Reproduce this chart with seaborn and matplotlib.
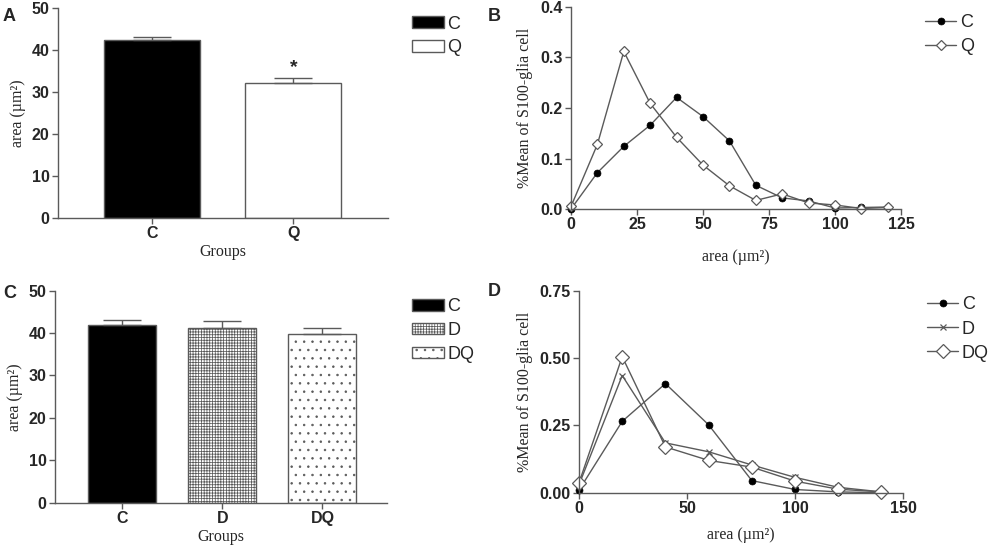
import numpy as np
import pandas as pd
import matplotlib
matplotlib.use("Agg")
import matplotlib.pyplot as plt
import seaborn as sns
from matplotlib.patches import Patch

# Panel A: mean area per group
groups_a = ["C", "Q"]
area_a = [42.2, 32.2]
sem_a = [0.8, 1.0]

# Panel B: distribution of cell area
x_b = [0, 10, 20, 30, 40, 50, 60, 70, 80, 90, 100, 110, 120]
c_b = [0.0, 0.072, 0.124, 0.166, 0.221, 0.183, 0.135, 0.047, 0.022, 0.016, 0.002, 0.003, 0.004]
q_b = [0.005, 0.128, 0.312, 0.209, 0.142, 0.087, 0.046, 0.017, 0.030, 0.012, 0.008, 0.001, 0.003]

# Panel C
groups_c = ["C", "D", "DQ"]
area_c = [42.0, 41.3, 39.9]
sem_c = [1.0, 1.5, 1.3]

# Panel D
x_d = [0, 20, 40, 60, 80, 100, 120, 140]
c_d = [0.01, 0.265, 0.405, 0.252, 0.045, 0.012, 0.003, 0.0]
d_d = [0.03, 0.435, 0.185, 0.152, 0.103, 0.057, 0.02, 0.003]
dq_d = [0.037, 0.505, 0.17, 0.12, 0.095, 0.043, 0.013, 0.003]

sns.set_style("white")
plt.rcParams["font.family"] = ["Liberation Sans", "DejaVu Sans"]
plt.rcParams["hatch.linewidth"] = 0.55

gray = "#5a5a5a"
serif = ["Liberation Serif", "DejaVu Serif"]
tick_fs = 11.5
lab_fs = 11.5
leg_fs = 13

fig = plt.figure(figsize=(9.92, 5.46), dpi=100)
axA = fig.add_axes([0.0585, 0.6007, 0.3325, 0.3853])
axB = fig.add_axes([0.5756, 0.6172, 0.3327, 0.3700])
axC = fig.add_axes([0.0554, 0.0793, 0.3347, 0.3883])
axD = fig.add_axes([0.5837, 0.0976, 0.3266, 0.3700])


def style_axes(ax):
    sns.despine(ax=ax)
    for s in ["left", "bottom"]:
        ax.spines[s].set_color(gray)
        ax.spines[s].set_linewidth(1.0)
    ax.tick_params(axis="both", direction="out", length=4, width=1.0,
                   color=gray, labelsize=tick_fs, pad=2, left=True, bottom=True)
    for t in ax.get_xticklabels() + ax.get_yticklabels():
        t.set_fontweight("bold")


def bar_panel(ax, groups, vals, errs, fills, hatches):
    df = pd.DataFrame({"group": groups, "area": vals})
    sns.barplot(data=df, x="group", y="area", hue="group", palette=fills,
                width=0.68, edgecolor=gray, linewidth=1.0, legend=False, ax=ax)
    for p, h in zip(ax.patches, hatches):
        if h:
            p.set_hatch(h)
    ax.errorbar(range(len(groups)), vals, yerr=[np.zeros(len(errs)), errs],
                fmt="none", ecolor=gray, elinewidth=1.0, capsize=14, capthick=1.0)
    ax.set_ylim(0, 50)
    ax.set_yticks([0, 10, 20, 30, 40, 50])
    ax.set_xlabel("Groups", family=serif, fontsize=lab_fs, labelpad=2)
    ax.set_ylabel("area (µm²)", family=serif, fontsize=lab_fs, labelpad=4)
    style_axes(ax)


def bar_legend(ax, handles, labels, x, y):
    ax.legend(handles, labels, loc="upper left", bbox_to_anchor=(x, y),
              frameon=False, fontsize=leg_fs, handlelength=1.77, handleheight=0.62,
              handletextpad=0.2, labelspacing=0.38, borderpad=0, borderaxespad=0)


# A
bar_panel(axA, groups_a, area_a, sem_a, ["black", "white"], [None, None])
axA.set_xlim(-0.664, 1.668)
axA.text(1, area_a[1] + sem_a[1] + 0.6, "*", ha="center", va="bottom",
         fontsize=14, fontweight="bold")
hA = [Patch(facecolor="black", edgecolor=gray),
      Patch(facecolor="white", edgecolor=gray)]
bar_legend(axA, hA, groups_a, 1.073, 0.962)

# C
bar_panel(axC, groups_c, area_c, sem_c, ["black", "white", "white"],
          [None, "++++++", ".."])
axC.set_xlim(-0.675, 2.645)
hC = [Patch(facecolor="black", edgecolor=gray),
      Patch(facecolor="white", edgecolor=gray, hatch="++++++"),
      Patch(facecolor="white", edgecolor=gray, hatch="..")]
bar_legend(axC, hC, groups_c, 1.075, 0.965)


def line_panel(ax, x, series, names, markers, leg_xy, xpad):
    for ys, name, mk in zip(series, names, markers):
        sns.lineplot(x=x, y=ys, color=gray, linewidth=1.0, ax=ax, label=name,
                     marker=mk["marker"], markersize=mk["size"],
                     markerfacecolor=mk["fc"], markeredgecolor=mk["ec"],
                     markeredgewidth=mk["mew"])
    ax.set_xlabel("area (µm²)", family=serif, fontsize=lab_fs, labelpad=xpad)
    ax.set_ylabel("%Mean of S100-glia cell", family=serif, fontsize=lab_fs, labelpad=5)
    style_axes(ax)
    ax.legend(loc="upper left", bbox_to_anchor=leg_xy, frameon=False,
              fontsize=leg_fs, handlelength=1.73, handletextpad=0.2,
              labelspacing=0.4, borderpad=0, borderaxespad=0)


mC = dict(marker="o", size=5, fc="black", ec="black", mew=0.5)
mQ = dict(marker="D", size=5, fc="white", ec=gray, mew=0.9)
mX = dict(marker="x", size=4.5, fc=gray, ec=gray, mew=0.9)
mDQ = dict(marker="D", size=7, fc="white", ec=gray, mew=0.9)

line_panel(axB, x_b, [c_b, q_b], ["C", "Q"], [mC, mQ], (1.073, 0.965), 12)
axB.set_xlim(0, 125)
axB.set_ylim(0, 0.4)
axB.set_xticks([0, 25, 50, 75, 100, 125])
axB.set_yticks([0.0, 0.1, 0.2, 0.3, 0.4])
axB.set_yticklabels(["0.0", "0.1", "0.2", "0.3", "0.4"], fontweight="bold")

line_panel(axD, x_d, [c_d, d_d, dq_d], ["C", "D", "DQ"], [mC, mX, mDQ], (1.074, 0.972), 8)
axD.set_xlim(0, 150)
axD.set_ylim(0, 0.75)
axD.set_xticks([0, 50, 100, 150])
axD.set_yticks([0.0, 0.25, 0.5, 0.75])
axD.set_yticklabels(["0.00", "0.25", "0.50", "0.75"], fontweight="bold")
for ax in (axB, axD):
    for line in ax.lines:
        line.set_clip_on(False)
    for t in ax.get_xticklabels():
        t.set_fontweight("bold")

# panel letters
for lab, x, y in [("A", 0.003, 0.985), ("B", 0.492, 0.985),
                  ("C", 0.003, 0.478), ("D", 0.492, 0.482)]:
    fig.text(x, y, lab, fontsize=13, fontweight="bold", va="top", ha="left")

fig.savefig("out.png", dpi=100)
